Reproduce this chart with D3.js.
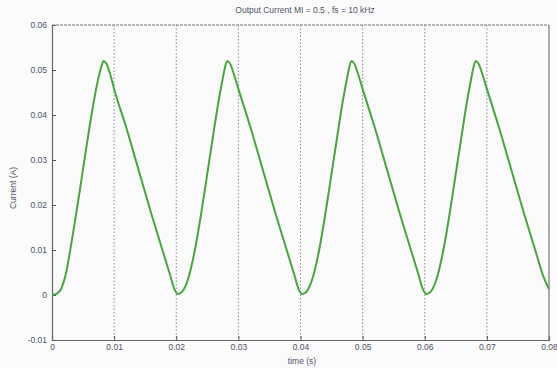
<!DOCTYPE html>
<html><head><meta charset="utf-8">
<script src="https://cdn.jsdelivr.net/npm/d3@7"></script>
<style>body{margin:0;background:#fbfbfb;} svg{display:block;}</style>
</head><body>
<svg id="c" width="557" height="368"></svg>
<script>
const title = "Output Current MI = 0.5 , fs = 10 kHz";
const xLabel = "time (s)";
const yLabel = "Current (A)";
const xTicks = [0, 0.01, 0.02, 0.03, 0.04, 0.05, 0.06, 0.07, 0.08];
const xTickLabels = ["0", "0.01", "0.02", "0.03", "0.04", "0.05", "0.06", "0.07", "0.08"];
const yTicks = [-0.01, 0, 0.01, 0.02, 0.03, 0.04, 0.05, 0.06];
const yTickLabels = ["-0.01", "0", "0.01", "0.02", "0.03", "0.04", "0.05", "0.06"];
const gridX = [0.01, 0.02, 0.03, 0.04, 0.05, 0.06, 0.07];
// time (s) and current (A)
const time = [
  0, 0.0008, 0.0015, 0.0022, 0.003, 0.004, 0.005, 0.006, 0.0068, 0.0074, 0.0079, 0.0083, 0.0088, 0.0093, 0.010, 0.012, 0.014, 0.016, 0.018, 0.019, 0.0197, 0.0203,
  0.021, 0.022, 0.023, 0.024, 0.025, 0.026, 0.0268, 0.0274, 0.0278, 0.0282, 0.0287, 0.0292, 0.030, 0.032, 0.034, 0.036, 0.038, 0.039, 0.0397, 0.0403,
  0.041, 0.042, 0.043, 0.044, 0.045, 0.046, 0.0468, 0.0474, 0.0478, 0.0482, 0.0487, 0.0492, 0.050, 0.052, 0.054, 0.056, 0.058, 0.059, 0.0597, 0.0603,
  0.061, 0.062, 0.063, 0.064, 0.065, 0.066, 0.0668, 0.0674, 0.0678, 0.0682, 0.0687, 0.0692, 0.070, 0.072, 0.074, 0.076, 0.078, 0.079, 0.080
];
const current = [
  0, 0.0003, 0.0015, 0.0045, 0.0105, 0.019, 0.028, 0.037, 0.0435, 0.0478, 0.0505, 0.052, 0.0513, 0.0494, 0.0458, 0.037, 0.0275, 0.018, 0.009, 0.0045, 0.0013, 0.0002,
  0.0008, 0.004, 0.010, 0.018, 0.027, 0.036, 0.043, 0.0475, 0.0503, 0.052, 0.0513, 0.0494, 0.0458, 0.037, 0.0275, 0.018, 0.009, 0.0045, 0.0013, 0.0002,
  0.0008, 0.004, 0.010, 0.018, 0.027, 0.036, 0.043, 0.0475, 0.0503, 0.052, 0.0513, 0.0494, 0.0458, 0.037, 0.0275, 0.018, 0.009, 0.0045, 0.0013, 0.0002,
  0.0008, 0.004, 0.010, 0.018, 0.027, 0.036, 0.043, 0.0475, 0.0503, 0.052, 0.0513, 0.0494, 0.0458, 0.037, 0.0275, 0.018, 0.009, 0.0045, 0.0013
];

const svg = d3.select("#c");
const L = 52, R = 549, T = 25, B = 340;
const x = d3.scaleLinear().domain([0, 0.08]).range([L, R]);
const y = d3.scaleLinear().domain([-0.01, 0.06]).range([B, T]);
const txt = "#4d5368";
const font = "Liberation Sans, Arial, sans-serif";

// vertical dotted grid
svg.append("g").selectAll("line").data(gridX).join("line")
  .attr("x1", d => x(d)).attr("x2", d => x(d)).attr("y1", T).attr("y2", B)
  .attr("stroke", "#8a8a8a").attr("stroke-width", 1).attr("stroke-dasharray", "1.5,2");

// axes
const ax = svg.append("g").attr("transform", `translate(0,${B})`)
  .call(d3.axisBottom(x).tickValues(xTicks).tickSize(-4).tickPadding(4)
    .tickFormat((d, i) => xTickLabels[i]));
const ay = svg.append("g").attr("transform", `translate(${L},0)`)
  .call(d3.axisLeft(y).tickValues(yTicks).tickSize(-4).tickPadding(5)
    .tickFormat((d, i) => yTickLabels[i]));
[ax, ay].forEach(g => {
  g.select(".domain").attr("stroke", "#666").attr("stroke-width", 1.2);
  g.selectAll(".tick line").attr("stroke", "#555");
  g.selectAll("text").attr("fill", txt).attr("font-size", 8.5).attr("font-family", font);
});
// top and right box lines
svg.append("line").attr("x1", L).attr("x2", R).attr("y1", T).attr("y2", T)
  .attr("stroke", "#777").attr("stroke-width", 1).attr("stroke-dasharray", "3,1");
svg.append("line").attr("x1", R).attr("x2", R).attr("y1", T).attr("y2", B)
  .attr("stroke", "#777").attr("stroke-width", 1.2);

// current trace
const pts = time.map((t, i) => [t, current[i]]);
svg.append("path").datum(pts)
  .attr("fill", "none").attr("stroke", "#45a83a").attr("stroke-width", 2)
  .attr("d", d3.line().x(d => x(d[0])).y(d => y(d[1])).curve(d3.curveMonotoneX));

// labels
svg.append("text").attr("x", 305).attr("y", 13).attr("text-anchor", "middle")
  .attr("font-size", 8.5).attr("font-family", font).attr("fill", txt).text(title);
svg.append("text").attr("x", 302).attr("y", 364).attr("text-anchor", "middle")
  .attr("font-size", 8.5).attr("font-family", font).attr("fill", txt).text(xLabel);
svg.append("text").attr("transform", "translate(16,188) rotate(-90)").attr("text-anchor", "middle")
  .attr("font-size", 8.5).attr("font-family", font).attr("fill", txt).text(yLabel);
</script>
</body></html>
